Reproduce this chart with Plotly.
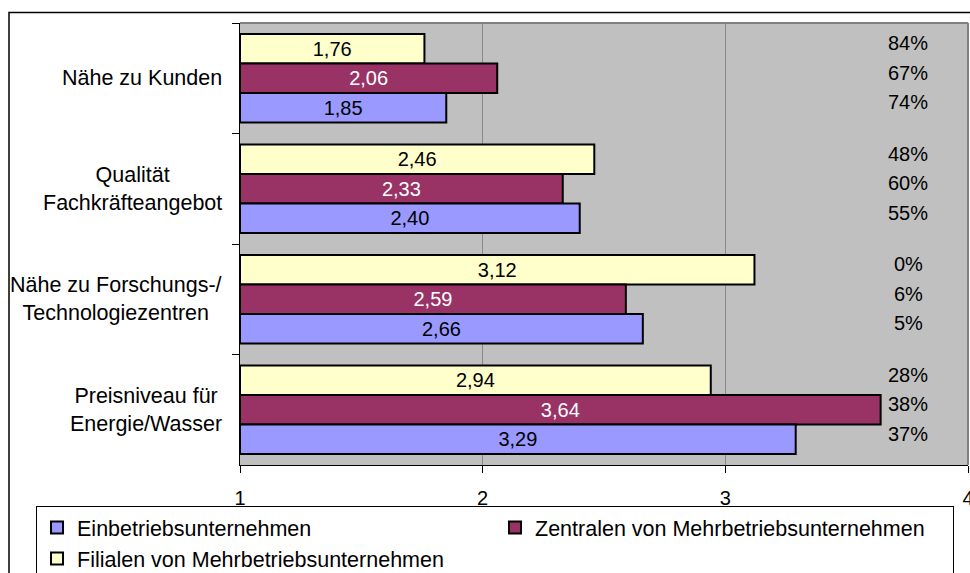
import plotly.graph_objects as go

categories = ["Nähe zu Kunden", "Qualität<br>Fachkräfteangebot",
              "Nähe zu Forschungs-/<br>Technologiezentren", "Preisniveau für<br>Energie/Wasser"]
series_names = ["Einbetriebsunternehmen", "Zentralen von Mehrbetriebsunternehmen",
                "Filialen von Mehrbetriebsunternehmen"]
einbetrieb = [1.85, 2.40, 2.66, 3.29]
zentralen = [2.06, 2.33, 2.59, 3.64]
filialen = [1.76, 2.46, 3.12, 2.94]
pct_einbetrieb = ["74%", "55%", "5%", "37%"]
pct_zentralen = ["67%", "60%", "6%", "38%"]
pct_filialen = ["84%", "48%", "0%", "28%"]
x_ticks = [1, 2, 3, 4]
axis_base = 1

FONT = "Liberation Sans, Arial, sans-serif"
FS = 20
FS_BIG = 21.5

def fmt(v):
    return f"{v:.2f}".replace(".", ",")

# drawing order: yellow (top), purple, blue (bottom) within each group
specs = [
    (series_names[2], filialen, "#FFFFCC", "black", 3),
    (series_names[1], zentralen, "#993366", "white", 2),
    (series_names[0], einbetrieb, "#9999FF", "black", 1),
]

fig = go.Figure()
for name, vals, col, tcol, rank in specs:
    fig.add_trace(go.Bar(
        name=name, y=categories, x=[v - axis_base for v in vals], base=axis_base,
        orientation="h", marker=dict(color=col, line=dict(color="black", width=2)),
        text=[fmt(v) for v in vals], textposition="inside", insidetextanchor="middle",
        constraintext="none", textfont=dict(color=tcol, size=FS, family=FONT),
        legendrank=rank, hoverinfo="name+text",
    ))

annotations = []
# category labels (right-aligned block, centered lines)
for c in categories:
    annotations.append(dict(x=-0.022, xref="paper", y=c, yref="y", text=c,
                            xanchor="right", align="center", showarrow=False,
                            font=dict(size=FS_BIG, family=FONT, color="black")))
# percentages
for pcts, shift in [(pct_filialen, 35), (pct_zentralen, 5.5), (pct_einbetrieb, -24)]:
    for c, p in zip(categories, pcts):
        annotations.append(dict(x=3.753, xref="x", y=c, yref="y", text=p, yshift=shift,
                                xanchor="center", showarrow=False,
                                font=dict(size=FS, family=FONT, color="black")))

shapes = [
    dict(type="line", xref="paper", yref="paper", x0=0, x1=1, y0=1, y1=1,
         line=dict(color="#808080", width=2), layer="above"),
    dict(type="line", xref="paper", yref="paper", x0=1, x1=1, y0=0, y1=1,
         line=dict(color="#808080", width=2), layer="above"),
    dict(type="rect", xref="paper", yref="paper", x0=-0.3173, x1=1.05, y0=-0.5, y1=1.0238,
         line=dict(color="black", width=1.5), layer="above"),
]

fig.update_layout(
    width=970, height=573,
    margin=dict(l=240, r=2, t=23, b=108, autoexpand=False),
    paper_bgcolor="white", plot_bgcolor="#C0C0C0",
    font=dict(family=FONT, size=FS, color="black"),
    barmode="group", bargap=0.2, bargroupgap=0,
    showlegend=True,
    legend=dict(orientation="h", x=-0.2802, y=-0.0928, xanchor="left", yanchor="top",
                bgcolor="white", bordercolor="black", borderwidth=1,
                entrywidth=413, entrywidthmode="pixels",
                font=dict(size=FS_BIG, family=FONT), itemwidth=30, tracegroupgap=0),
    annotations=annotations, shapes=shapes,
    xaxis=dict(range=[1, 4], tickvals=x_ticks, ticktext=[str(t) for t in x_ticks],
               showgrid=True, gridcolor="#8a8a8a", gridwidth=1, zeroline=False,
               showline=True, linecolor="black", linewidth=1,
               ticks="outside", ticklen=7, tickcolor="black", ticklabelstandoff=8,
               ticklabeloverflow="allow",
               tickfont=dict(size=FS, family=FONT)),
    yaxis=dict(type="category", autorange="reversed", showgrid=False,
               showline=True, linecolor="black", linewidth=1,
               ticks="outside", tickson="boundaries", ticklen=7, tickcolor="black",
               showticklabels=False),
)

fig.write_html("out.html", config={"displayModeBar": False},
               post_script="document.body.style.margin='0';document.body.style.overflow='hidden';")
